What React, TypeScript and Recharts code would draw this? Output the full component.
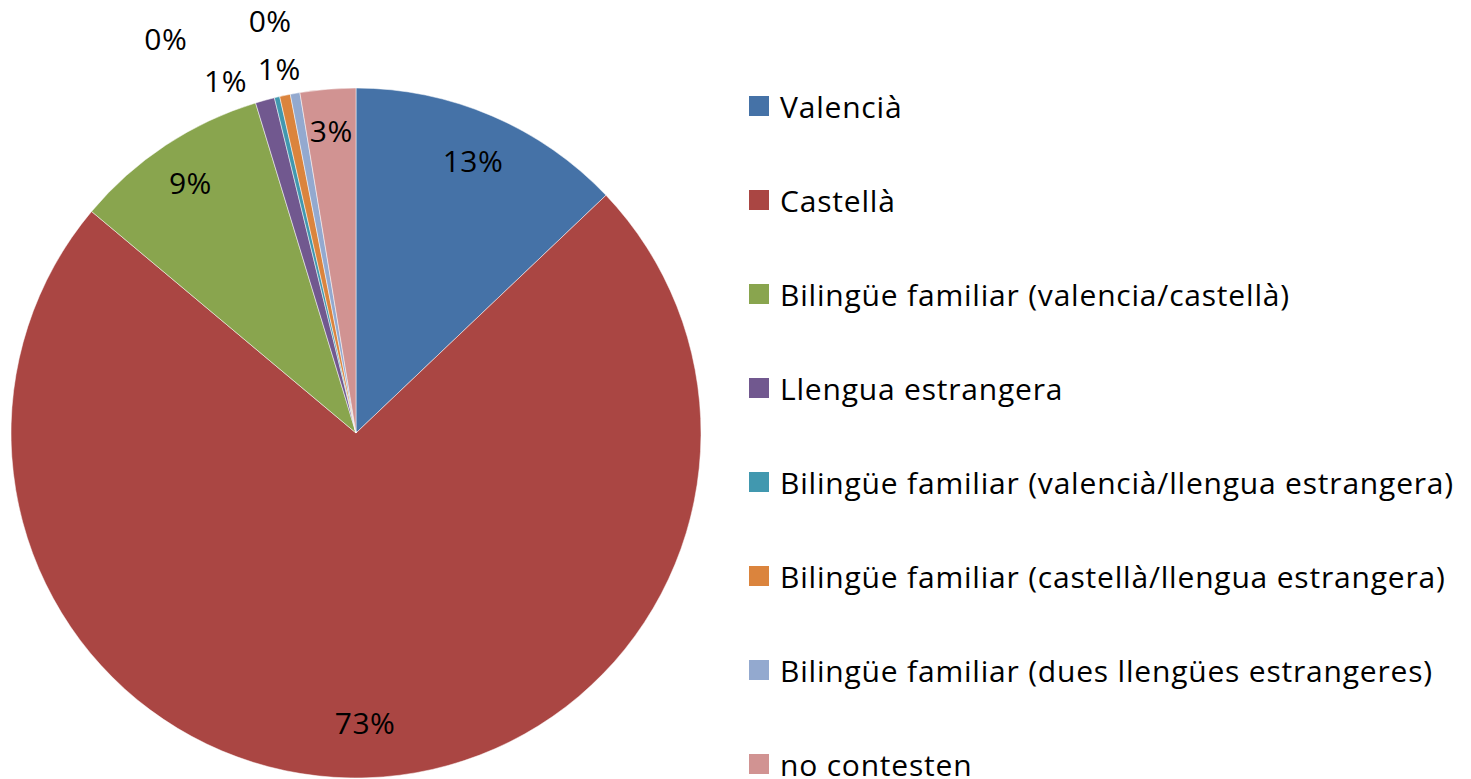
import { Cell, Legend, Pie, PieChart } from "recharts";

const categories = [
  "Valencià",
  "Castellà",
  "Bilingüe familiar (valencia/castellà)",
  "Llengua estrangera",
  "Bilingüe familiar (valencià/llengua estrangera)",
  "Bilingüe familiar (castellà/llengua estrangera)",
  "Bilingüe familiar (dues llengües estrangeres)",
  "no contesten",
];
const shares = [12.9, 73.2, 9.2, 0.9, 0.25, 0.5, 0.45, 2.6];
const shareLabels = ["13%", "73%", "9%", "1%", "0%", "1%", "0%", "3%"];
const colors = ["#4572A7", "#AA4643", "#89A54E", "#71588F", "#4198AF", "#DB843D", "#93A9CF", "#D19392"];

// label placement: radius as fraction of outer radius, angular shift in degrees
const labelRadius = [0.86, 0.84, 0.87, 1.09, 1.27, 1.08, 1.22, 0.88];
const labelShift = [0, 0, 0, 5, 12.5, 0, 1.6, 0];

const FONT = "'Open Sans', 'DejaVu Sans', sans-serif";
const RAD = Math.PI / 180;

const data = categories.map((name, i) => ({ name, value: shares[i] }));

function renderLabel(props: any) {
  const { cx, cy, midAngle, outerRadius, index } = props;
  const a = (midAngle + labelShift[index]) * RAD;
  const r = outerRadius * labelRadius[index];
  const x = cx + r * Math.cos(-a);
  const y = cy + r * Math.sin(-a);
  return (
    <text
      x={x}
      y={y}
      fill="#000"
      fontSize={30}
      letterSpacing={0.5}
      fontFamily={FONT}
      textAnchor="middle"
      dominantBaseline="central"
    >
      {shareLabels[index]}
    </text>
  );
}

function LegendList(props: any) {
  const items = [...(props.payload ?? [])].sort(
    (a: any, b: any) => categories.indexOf(a.value) - categories.indexOf(b.value)
  );
  return (
    <div style={{ fontFamily: FONT, fontSize: 30, letterSpacing: 0.8, color: "#000" }}>
      {items.map((it: any) => (
        <div
          key={it.value}
          style={{ display: "flex", alignItems: "center", height: 94, whiteSpace: "nowrap" }}
        >
          <span style={{ width: 20, height: 20, background: it.color, marginRight: 11, display: "inline-block" }} />
          <span>{it.value}</span>
        </div>
      ))}
    </div>
  );
}

export default function App() {
  return (
    <div style={{ position: "absolute", left: 0, top: 0, width: 1471, height: 779, background: "#fff" }}>
      <PieChart width={1471} height={779} margin={{ top: 0, right: 0, bottom: 0, left: 0 }}>
        <Pie
          data={data}
          dataKey="value"
          nameKey="name"
          cx={356}
          cy={433}
          outerRadius={345}
          startAngle={90}
          endAngle={-270}
          stroke="#fff"
          strokeWidth={0.5}
          label={renderLabel}
          labelLine={false}
          isAnimationActive={false}
        >
          {data.map((d, i) => (
            <Cell key={d.name} fill={colors[i]} />
          ))}
        </Pie>
        <Legend
          layout="vertical"
          align="right"
          verticalAlign="top"
          content={<LegendList />}
          wrapperStyle={{ position: "absolute", left: 749, top: 59, width: 722 }}
        />
      </PieChart>
    </div>
  );
}
